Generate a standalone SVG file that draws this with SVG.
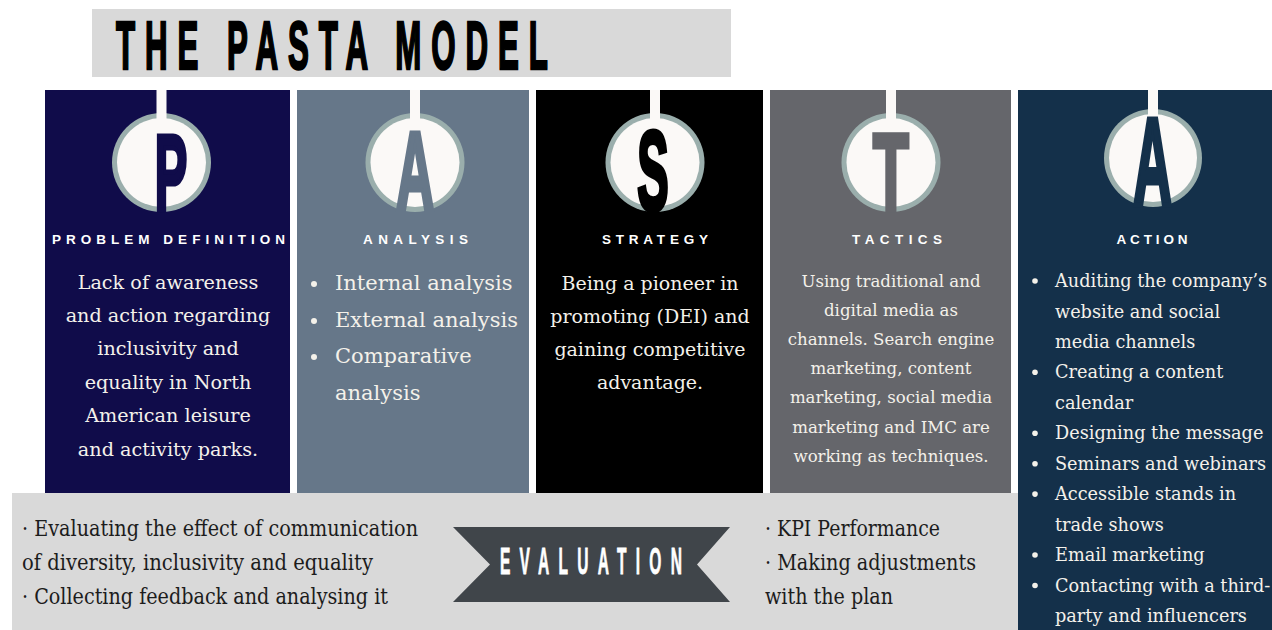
<svg xmlns="http://www.w3.org/2000/svg" width="1272" height="630" viewBox="0 0 1272 630">
  <style>
    .body { font-family: "DejaVu Serif", "Liberation Serif", serif; fill: #f4f1ea; }
    .eval { font-family: "DejaVu Serif", "Liberation Serif", serif; fill: #1c1c1c; font-size: 22px; }
    .label { font-family: "Liberation Sans", Arial, sans-serif; font-weight: bold; font-size: 13.5px; fill: #ffffff; }
    .big { font-family: "Liberation Sans", Arial, sans-serif; font-weight: bold; stroke-linejoin: miter; }
    .ring { fill: #9aaeac; }
    .disc { fill: #fbf9f7; }
    .dot { fill: #f4f1ea; }
  </style>

  <rect width="1272" height="630" fill="#ffffff"/>

  <!-- heading -->
  <g id="title">
    <rect x="92" y="9" width="639" height="68" fill="#d9d9d9"/>
    <text class="big" transform="translate(116,69) scale(0.46,1)" font-size="68" fill="#000" stroke="#000" stroke-width="2.5" textLength="939" lengthAdjust="spacing">THE PASTA MODEL</text>
  </g>

  <!-- evaluation band along the bottom -->
  <g id="evaluation">
    <rect x="12" y="493" width="1006" height="137" fill="#d9d9d9"/>
    <polygon points="453,527 730,527 697,564.5 730,602 453,602 490,564.5" fill="#40454a"/>
    <text class="big" transform="translate(500,574) scale(0.42,1)" font-size="37" fill="#ffffff" stroke="#ffffff" stroke-width="0.8" textLength="433" lengthAdjust="spacing">EVALUATION</text>
    <text class="eval" x="22" y="536" textLength="396" lengthAdjust="spacingAndGlyphs">· Evaluating the effect of communication</text>
    <text class="eval" x="22" y="570" textLength="351" lengthAdjust="spacingAndGlyphs">of diversity, inclusivity and equality</text>
    <text class="eval" x="22" y="604" textLength="366" lengthAdjust="spacingAndGlyphs">· Collecting feedback and analysing it</text>
    <text class="eval" x="765" y="536" textLength="175" lengthAdjust="spacingAndGlyphs">· KPI Performance</text>
    <text class="eval" x="765" y="570" textLength="211" lengthAdjust="spacingAndGlyphs">· Making adjustments</text>
    <text class="eval" x="765" y="604" textLength="128" lengthAdjust="spacingAndGlyphs">with the plan</text>
  </g>

  <!-- P : problem definition -->
  <g id="node-problem">
    <rect x="45" y="90" width="245" height="403" fill="#100c4a"/>
    <circle cx="161.5" cy="162.5" r="49.5" class="ring"/>
    <circle cx="161.5" cy="162.5" r="44.5" class="disc"/>
    <rect x="156.5" y="90" width="10" height="32" class="disc"/>
    <text class="big" transform="translate(171,209.5) scale(0.453,1)" text-anchor="middle" font-size="107.5" fill="#100c4a" stroke="#100c4a" stroke-width="5">P</text>
    <text class="label" x="168.5" y="244" text-anchor="middle" textLength="233" lengthAdjust="spacing">PROBLEM DEFINITION</text>
    <g class="body" font-size="19.2" text-anchor="middle">
      <text x="168" y="288.5">Lack of awareness</text>
      <text x="168" y="321.9">and action regarding</text>
      <text x="168" y="355.3">inclusivity and</text>
      <text x="168" y="388.7">equality in North</text>
      <text x="168" y="422.1">American leisure</text>
      <text x="168" y="455.5">and activity parks.</text>
    </g>
  </g>

  <!-- A : analysis -->
  <g id="node-analysis">
    <rect x="297" y="90" width="232" height="403" fill="#667789"/>
    <circle cx="415" cy="162.5" r="49.5" class="ring"/>
    <circle cx="415" cy="162.5" r="44.5" class="disc"/>
    <rect x="410" y="90" width="10" height="32" class="disc"/>
    <text class="big" transform="translate(415,209.5) scale(0.473,1)" text-anchor="middle" font-size="111.7" fill="#667789" stroke="#667789" stroke-width="5">A</text>
    <text class="label" x="415.5" y="244" text-anchor="middle" textLength="105" lengthAdjust="spacing">ANALYSIS</text>
    <g class="body" font-size="21">
      <circle cx="314" cy="284" r="3" class="dot"/>
      <text x="335" y="290">Internal analysis</text>
      <circle cx="314" cy="321" r="3" class="dot"/>
      <text x="335" y="327">External analysis</text>
      <circle cx="314" cy="357" r="3" class="dot"/>
      <text x="335" y="363">Comparative</text>
      <text x="335" y="400">analysis</text>
    </g>
  </g>

  <!-- S : strategy -->
  <g id="node-strategy">
    <rect x="536" y="90" width="227" height="403" fill="#000000"/>
    <circle cx="655" cy="162.5" r="49.5" class="ring"/>
    <circle cx="655" cy="162.5" r="44.5" class="disc"/>
    <rect x="650" y="90" width="10" height="32" class="disc"/>
    <text class="big" transform="translate(653,209.5) scale(0.415,1)" text-anchor="middle" font-size="113.5" fill="#000000" stroke="#000000" stroke-width="5">S</text>
    <text class="label" x="655" y="244" text-anchor="middle" textLength="106" lengthAdjust="spacing">STRATEGY</text>
    <g class="body" font-size="19" text-anchor="middle">
      <text x="650" y="290">Being a pioneer in</text>
      <text x="650" y="323">promoting (DEI) and</text>
      <text x="650" y="356">gaining competitive</text>
      <text x="650" y="389">advantage.</text>
    </g>
  </g>

  <!-- T : tactics -->
  <g id="node-tactics">
    <rect x="770" y="90" width="241" height="403" fill="#65666b"/>
    <circle cx="891" cy="162.5" r="49.5" class="ring"/>
    <circle cx="891" cy="162.5" r="44.5" class="disc"/>
    <rect x="886" y="90" width="10" height="32" class="disc"/>
    <text class="big" transform="translate(891,209.5) scale(0.537,1)" text-anchor="middle" font-size="109" fill="#65666b" stroke="#65666b" stroke-width="5">T</text>
    <text class="label" x="897" y="244" text-anchor="middle" textLength="90" lengthAdjust="spacing">TACTICS</text>
    <g class="body" font-size="16.6" text-anchor="middle">
      <text x="891" y="287">Using traditional and</text>
      <text x="891" y="316">digital media as</text>
      <text x="891" y="345">channels. Search engine</text>
      <text x="891" y="374">marketing, content</text>
      <text x="891" y="403">marketing, social media</text>
      <text x="891" y="433">marketing and IMC are</text>
      <text x="891" y="462">working as techniques.</text>
    </g>
  </g>

  <!-- A : action -->
  <g id="node-action">
    <rect x="1018" y="90" width="254" height="540" fill="#14304a"/>
    <circle cx="1153" cy="158" r="49" class="ring"/>
    <circle cx="1153" cy="158" r="44" class="disc"/>
    <rect x="1148" y="90" width="10" height="28" class="disc"/>
    <text class="big" transform="translate(1152.5,204.5) scale(0.436,1)" text-anchor="middle" font-size="124" fill="#14304a" stroke="#14304a" stroke-width="5">A</text>
    <text class="label" x="1152" y="244" text-anchor="middle" textLength="71" lengthAdjust="spacing">ACTION</text>
    <g class="body" font-size="17.7">
      <circle cx="1035" cy="281" r="2.8" class="dot"/>
      <text x="1055" y="287">Auditing the company’s</text>
      <text x="1055" y="317.5">website and social</text>
      <text x="1055" y="348">media channels</text>
      <circle cx="1035" cy="372.3" r="2.8" class="dot"/>
      <text x="1055" y="378.3">Creating a content</text>
      <text x="1055" y="408.8">calendar</text>
      <circle cx="1035" cy="433.2" r="2.8" class="dot"/>
      <text x="1055" y="439.2">Designing the message</text>
      <circle cx="1035" cy="463.7" r="2.8" class="dot"/>
      <text x="1055" y="469.7">Seminars and webinars</text>
      <circle cx="1035" cy="494.1" r="2.8" class="dot"/>
      <text x="1055" y="500.1">Accessible stands in</text>
      <text x="1055" y="530.6">trade shows</text>
      <circle cx="1035" cy="555" r="2.8" class="dot"/>
      <text x="1055" y="561">Email marketing</text>
      <circle cx="1035" cy="585.5" r="2.8" class="dot"/>
      <text x="1055" y="591.5">Contacting with a third-</text>
      <text x="1055" y="622">party and influencers</text>
    </g>
  </g>
</svg>
